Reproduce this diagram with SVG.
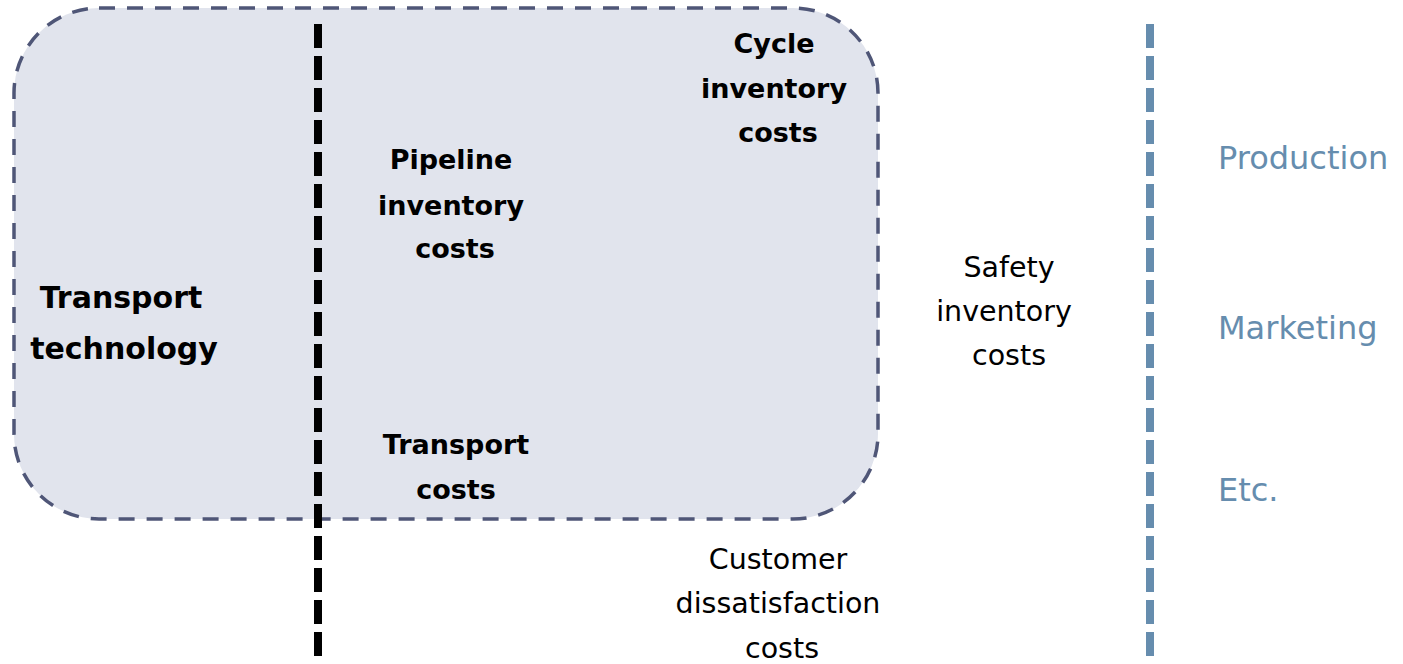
<svg xmlns="http://www.w3.org/2000/svg" width="1403" height="664" viewBox="0 0 1403 664">
<style>
.b{font-family:"DejaVu Sans",sans-serif;font-weight:bold;font-size:27px;fill:#000;text-anchor:middle}
.r{font-family:"DejaVu Sans",sans-serif;font-size:28.5px;fill:#000;text-anchor:middle}
.s{font-family:"DejaVu Sans",sans-serif;font-size:32px;fill:#668dae}
</style>
<rect width="1403" height="664" fill="#fff"/>
<g id="box">
<rect x="14" y="8" width="864" height="511" rx="85" ry="85" fill="#e1e4ed" stroke="#4f5677" stroke-width="3.5" stroke-dasharray="16 12"/>
</g>
<g id="connectors">
<line x1="318" y1="24" x2="318" y2="656" stroke="#000" stroke-width="8" stroke-dasharray="24 8"/>
<line x1="1150" y1="24" x2="1150" y2="656" stroke="#668dae" stroke-width="8" stroke-dasharray="24 8"/>
</g>
<g id="cycle"><text class="b" x="774"><tspan x="774" y="53">Cycle</tspan><tspan x="774" y="98">inventory</tspan><tspan x="778" y="142">costs</tspan></text></g>
<g id="pipeline"><text class="b"><tspan x="451" y="169">Pipeline</tspan><tspan x="451" y="215">inventory</tspan><tspan x="455" y="258">costs</tspan></text></g>
<g id="transport-tech"><text class="b" style="font-size:30px"><tspan x="121" y="308">Transport</tspan><tspan x="124" y="359">technology</tspan></text></g>
<g id="transport-costs"><text class="b"><tspan x="456" y="454">Transport</tspan><tspan x="456" y="499">costs</tspan></text></g>
<g id="safety"><text class="r"><tspan x="1009" y="277">Safety</tspan><tspan x="1004" y="321">inventory</tspan><tspan x="1009" y="365">costs</tspan></text></g>
<g id="customer"><text class="r"><tspan x="778" y="569">Customer</tspan><tspan x="778" y="613">dissatisfaction</tspan><tspan x="782" y="658">costs</tspan></text></g>
<g id="production"><text class="s" x="1218" y="169">Production</text></g>
<g id="marketing"><text class="s" x="1218" y="339">Marketing</text></g>
<g id="etc"><text class="s" x="1218" y="501">Etc.</text></g>
</svg>
